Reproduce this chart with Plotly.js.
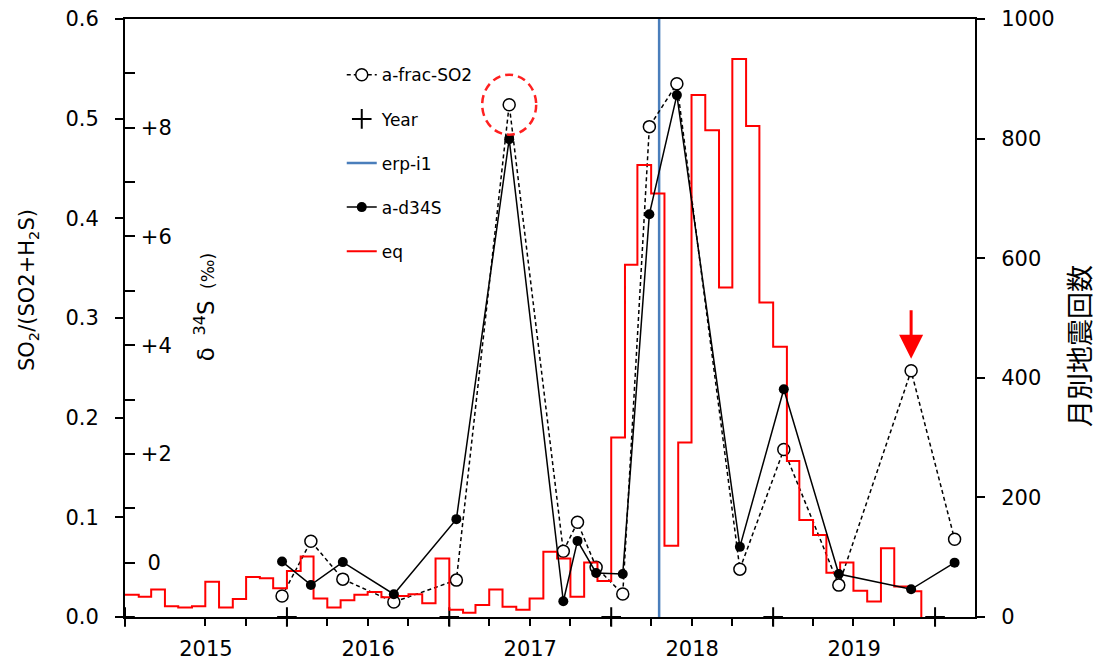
<!DOCTYPE html>
<html>
<head>
<meta charset="utf-8">
<script src="https://cdn.plot.ly/plotly-3.0.1.min.js"></script>
<style>html,body{margin:0;padding:0;background:#fff;}#chart{width:1097px;height:663px;}</style>
</head>
<body>
<div id="chart"></div>
<script>
// Sampling dates (shared by both sample series)
var sampleDates = ['2015-12-21','2016-02-24','2016-05-06','2016-08-29','2017-01-17','2017-05-16',
  '2017-09-15','2017-10-17','2017-11-28','2018-01-27','2018-03-28','2018-05-29',
  '2018-10-18','2019-01-25','2019-05-29','2019-11-08','2020-02-14'];
// SO2/(SO2+H2S)
var fracSO2 = [0.021, 0.076, 0.038, 0.015, 0.037, 0.514, 0.066, 0.095, 0.050, 0.023, 0.492, 0.535,
  0.048, 0.168, 0.032, 0.247, 0.078];
// delta 34S (permil)
var d34S = [0.02, -0.41, 0.01, -0.58, 0.80, 7.79, -0.71, 0.40, -0.19, -0.21, 6.41, 8.60,
  0.29, 3.19, -0.21, -0.49, 0.00];
// Monthly earthquake counts
var eqMonths = ['2015-01','2015-02','2015-03','2015-04','2015-05','2015-06','2015-07','2015-08','2015-09','2015-10','2015-11','2015-12',
  '2016-01','2016-02','2016-03','2016-04','2016-05','2016-06','2016-07','2016-08','2016-09','2016-10','2016-11','2016-12',
  '2017-01','2017-02','2017-03','2017-04','2017-05','2017-06','2017-07','2017-08','2017-09','2017-10','2017-11','2017-12',
  '2018-01','2018-02','2018-03','2018-04','2018-05','2018-06','2018-07','2018-08','2018-09','2018-10','2018-11','2018-12',
  '2019-01','2019-02','2019-03','2019-04','2019-05','2019-06','2019-07','2019-08','2019-09','2019-10','2019-11','2019-12'];
var eqCounts = [37, 34, 46, 18, 16, 18, 59, 16, 30, 67, 65, 48,
  77, 101, 31, 16, 28, 37, 42, 33, 35, 38, 23, 98,
  12, 7, 20, 46, 17, 12, 31, 109, 98, 34, 91, 60,
  300, 589, 756, 708, 119, 292, 873, 814, 551, 933, 821, 526,
  452, 261, 162, 137, 74, 91, 44, 26, 115, 51, 43, 0];
// Eruption date
var erpDates = ['2018-04-19', '2018-04-19'];
var erpValues = [0, 0.6];
// Year markers
var yearDates = ['2015-01-01','2016-01-01','2017-01-01','2018-01-01','2019-01-01','2020-01-01'];
var yearValues = [0, 0, 0, 0, 0, 0];
// delta axis tick labels
var dTickVals = [-1, 0, 1, 2, 3, 4, 5, 6, 7, 8, 9];
var dTickText = ['', '\u20080', '', '+2', '', '+4', '', '+6', '', '+8', ''];

var FONT = '"DejaVu Sans", "Open Sans", sans-serif';
var CJK = '"Noto Sans CJK JP", sans-serif';

var traces = [
  {name: 'eq', x: eqMonths, y: eqCounts, yaxis: 'y2', type: 'scatter', mode: 'lines',
   line: {shape: 'hv', color: '#ff0000', width: 2}, legendrank: 5, legendgroup: 'g5'},
  {name: 'erp-i1', x: erpDates, y: erpValues, type: 'scatter', mode: 'lines',
   line: {color: '#4a7ebb', width: 2.5}, legendrank: 3, legendgroup: 'g3'},
  {name: 'Year', x: yearDates, y: yearValues, type: 'scatter', mode: 'markers', cliponaxis: false,
   marker: {symbol: 'cross-thin', size: 14, color: '#000', line: {color: '#000', width: 2}},
   legendrank: 2, legendgroup: 'g2'},
  {name: 'a-d34S', x: sampleDates, y: d34S, yaxis: 'y3', type: 'scatter', mode: 'lines+markers',
   line: {color: '#000', width: 1.5}, marker: {symbol: 'circle', size: 10, color: '#000'},
   legendrank: 4, legendgroup: 'g4'},
  {name: 'a-frac-SO2', x: sampleDates, y: fracSO2, type: 'scatter', mode: 'lines+markers',
   line: {color: '#000', width: 1.5, dash: '4px,3px'},
   marker: {symbol: 'circle', size: 12, color: '#fff', line: {color: '#000', width: 1.5}},
   legendrank: 1, legendgroup: 'g1'}
];

var layout = {
  width: 1097, height: 663,
  margin: {l: 125, r: 122, t: 19, b: 46},
  paper_bgcolor: '#fff', plot_bgcolor: '#fff',
  font: {family: FONT, color: '#000'},
  showlegend: true,
  legend: {x: 0.255, y: 0.936, xanchor: 'left', yanchor: 'top', bgcolor: 'rgba(0,0,0,0)',
    font: {size: 17, family: FONT, color: '#000'}, tracegroupgap: 19, traceorder: 'grouped'},
  xaxis: {type: 'date', range: ['2015-01-01', '2020-03-31'], showgrid: false, zeroline: false,
    showline: true, linecolor: '#000', linewidth: 2, mirror: true,
    tick0: '2015-01-01', dtick: 'M12', ticklabelmode: 'period', tickformat: '%Y',
    ticks: 'outside', ticklen: 7, tickwidth: 2, tickcolor: '#000',
    minor: {dtick: 'M3', ticks: 'outside', ticklen: 7, tickwidth: 2, tickcolor: '#000', showgrid: false},
    tickfont: {size: 21, family: FONT, color: '#000'}, ticklabelstandoff: 5},
  yaxis: {range: [0, 0.6], dtick: 0.1, tickformat: '.1f', showgrid: false, zeroline: false,
    showline: true, linecolor: '#000', linewidth: 2,
    ticks: 'outside', ticklen: 8, tickwidth: 2, tickcolor: '#000',
    tickfont: {size: 21, family: FONT, color: '#000'}, ticklabelstandoff: 12},
  yaxis2: {overlaying: 'y', side: 'right', anchor: 'x', range: [0, 1000], dtick: 200,
    showgrid: false, zeroline: false, showline: true, linecolor: '#000', linewidth: 2,
    ticks: 'outside', ticklen: 8, tickwidth: 2, tickcolor: '#000',
    tickfont: {size: 21, family: FONT, color: '#000'}, ticklabelstandoff: 12},
  yaxis3: {overlaying: 'y', side: 'left', anchor: 'x', range: [-1, 10],
    tickmode: 'array', tickvals: dTickVals, ticktext: dTickText,
    showgrid: false, zeroline: false, showline: false,
    ticks: 'inside', ticklen: 10, tickwidth: 2, tickcolor: '#000',
    ticklabelposition: 'inside', tickfont: {size: 21, family: FONT, color: '#000'}, ticklabelstandoff: 7},
  shapes: [
    {type: 'circle', xref: 'x', yref: 'y', xsizemode: 'pixel', ysizemode: 'pixel',
     xanchor: sampleDates[5], yanchor: fracSO2[5], x0: -27, x1: 27, y0: -30, y1: 30,
     line: {color: '#ff2020', width: 2.5, dash: '8px,5px'}}
  ],
  annotations: [
    {x: sampleDates[15], y: fracSO2[15], xref: 'x', yref: 'y', text: '', showarrow: true,
     ax: 0, ay: -62, arrowcolor: '#ff0000', arrowwidth: 3, arrowhead: 2, arrowsize: 1.6, standoff: 12},
    {x: -0.114, y: 0.547, xref: 'paper', yref: 'paper', xanchor: 'center', yanchor: 'middle',
     textangle: -90, showarrow: false,
     text: 'SO<sub>2</sub>/(SO2+H<sub>2</sub>S)', font: {size: 21, family: FONT, color: '#000'}},
    {x: 0.094, y: 0.518, xref: 'paper', yref: 'paper', xanchor: 'center', yanchor: 'middle',
     textangle: -90, showarrow: false,
     text: 'δ\u2002<sup>34</sup>S\u2002<span style="font-size:17px">(‰)</span>',
     font: {size: 23, family: FONT, color: '#000'}},
    {x: 1.121, y: 0.453, xref: 'paper', yref: 'paper', xanchor: 'center', yanchor: 'middle',
     textangle: -90, showarrow: false,
     text: '月別地震回数', font: {size: 27, family: CJK, color: '#000'}}
  ]
};

Plotly.newPlot('chart', traces, layout, {displayModeBar: false, staticPlot: true});
</script>
</body>
</html>
